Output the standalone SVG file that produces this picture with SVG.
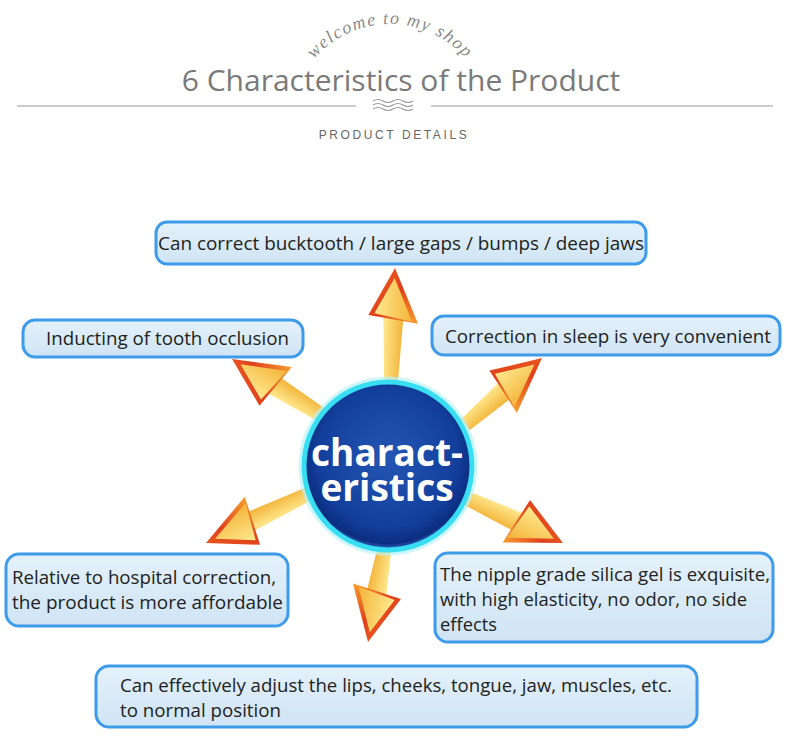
<svg xmlns="http://www.w3.org/2000/svg" width="790" height="756" viewBox="0 0 790 756">
<style>
.box{fill:url(#boxFill);stroke:#3d9be9;stroke-width:3}
.bt{font-family:"Open Sans","Noto Sans",sans-serif;font-size:19px;fill:#222}
.shaft{fill:url(#yel)}
.ct{font-family:"Open Sans",sans-serif;font-weight:bold;font-size:37px;fill:#fff}
</style>
<defs>
<linearGradient id="boxFill" x1="0" y1="0" x2="0" y2="1">
<stop offset="0" stop-color="#e4f1fa"/><stop offset="1" stop-color="#cfe4f4"/>
</linearGradient>
<linearGradient id="yel" x1="0" y1="0" x2="1" y2="0">
<stop offset="0" stop-color="#ffe98f"/><stop offset="1" stop-color="#f3b43a"/>
</linearGradient>
<linearGradient id="red" x1="0" y1="0" x2="1" y2="1">
<stop offset="0" stop-color="#f06a22"/><stop offset="0.5" stop-color="#e0401c"/><stop offset="1" stop-color="#f7a030"/>
</linearGradient>
<radialGradient id="ball" cx="0.5" cy="0.45" r="0.55">
<stop offset="0" stop-color="#2456b4"/><stop offset="0.75" stop-color="#133f9c"/><stop offset="0.93" stop-color="#0b2d80"/><stop offset="1" stop-color="#3c78d6"/>
</radialGradient>
<g id="head">
<polygon points="0,0 25,55 -25,48" fill="url(#red)"/>
<polygon points="0,10 19,53 -19,46" fill="url(#yel)"/>
</g>
<path id="arc" d="M 290,124 A 100 100 0 0 1 490,124"/>
</defs>
<rect width="790" height="756" fill="#fff"/>
<g id="header">
<text font-family="Liberation Serif,serif" font-style="italic" font-size="18" letter-spacing="1.5" fill="#8a8a8a"><textPath href="#arc" startOffset="50%" text-anchor="middle">welcome to my shop</textPath></text>
<text x="401" y="91" text-anchor="middle" font-family="Open Sans,sans-serif" font-size="30" fill="#7a7a7a">6 Characteristics of the Product</text>
<line x1="17" y1="106" x2="356" y2="106" stroke="#bbb" stroke-width="1.5"/>
<line x1="431" y1="106" x2="773" y2="106" stroke="#bbb" stroke-width="1.5"/>
<g fill="none" stroke="#999" stroke-width="1.2">
<path d="M373,101 q5,-3 10,0 t10,0 t10,0 t10,0"/>
<path d="M373,105 q5,-3 10,0 t10,0 t10,0 t10,0"/>
<path d="M373,109 q5,-3 10,0 t10,0 t10,0 t10,0"/>
</g>
<text x="394" y="139" text-anchor="middle" font-family="Liberation Sans,sans-serif" font-size="12" letter-spacing="2.6" fill="#666">PRODUCT DETAILS</text>
</g>
<g id="connectors">
<g transform="translate(395,268) rotate(2)"><polygon class="shaft" points="-10,47 10,51 7,112 -7,112"/><use href="#head"/></g>
<g transform="translate(232,359) rotate(-58)"><polygon class="shaft" points="-10,47 10,51 7,110 -7,110"/><use href="#head"/></g>
<g transform="translate(542,358) rotate(49)"><polygon class="shaft" points="-10,47 10,51 7,102 -7,102"/><use href="#head"/></g>
<g transform="translate(206,543) rotate(-115.6)"><polygon class="shaft" points="-10,47 10,51 7,114 -7,114"/><use href="#head"/></g>
<g transform="translate(563,543) rotate(115)"><polygon class="shaft" points="-10,47 10,51 7,110 -7,110"/><use href="#head"/></g>
<g transform="translate(368,642) rotate(190)"><polygon class="shaft" points="-10,47 10,51 7,95 -7,95"/><use href="#head"/></g>
</g>
<g id="center">
<circle cx="388" cy="466" r="88" fill="none" stroke="#b8f2fa" stroke-width="3" opacity="0.7"/>
<circle cx="388" cy="466" r="84" fill="url(#ball)" stroke="#38def2" stroke-width="5"/>
<text class="ct" text-anchor="middle"><tspan x="387" y="466">charact-</tspan><tspan x="387" y="501">eristics</tspan></text>
</g>
<g id="n-top">
<rect class="box" x="156" y="222" width="490" height="42" rx="11"/>
<text class="bt" x="158" y="250" textLength="486" lengthAdjust="spacingAndGlyphs">Can correct bucktooth / large gaps / bumps / deep jaws</text>
</g>
<g id="n-left">
<rect class="box" x="23" y="320" width="280" height="37" rx="12"/>
<text class="bt" x="46" y="345" textLength="243" lengthAdjust="spacingAndGlyphs">Inducting of tooth occlusion</text>
</g>
<g id="n-right">
<rect class="box" x="432" y="316" width="348" height="39" rx="12"/>
<text class="bt" x="445" y="343" textLength="326" lengthAdjust="spacingAndGlyphs">Correction in sleep is very convenient</text>
</g>
<g id="n-bottom-left">
<rect class="box" x="6" y="554" width="282" height="72" rx="13"/>
<text class="bt" x="12" y="584" textLength="264" lengthAdjust="spacingAndGlyphs">Relative to hospital correction,</text>
<text class="bt" x="12" y="609" textLength="271" lengthAdjust="spacingAndGlyphs">the product is more affordable</text>
</g>
<g id="n-bottom-right">
<rect class="box" x="435" y="553" width="338" height="89" rx="13"/>
<text class="bt" x="440" y="581" textLength="330" lengthAdjust="spacingAndGlyphs">The nipple grade silica gel is exquisite,</text>
<text class="bt" x="440" y="606" textLength="307" lengthAdjust="spacingAndGlyphs">with high elasticity, no odor, no side</text>
<text class="bt" x="440" y="631" textLength="57" lengthAdjust="spacingAndGlyphs">effects</text>
</g>
<g id="n-bottom">
<rect class="box" x="96" y="666" width="601" height="61" rx="13"/>
<text class="bt" x="120" y="692" textLength="552" lengthAdjust="spacingAndGlyphs">Can effectively adjust the lips, cheeks, tongue, jaw, muscles, etc.</text>
<text class="bt" x="120" y="717" textLength="161" lengthAdjust="spacingAndGlyphs">to normal position</text>
</g>
</svg>
